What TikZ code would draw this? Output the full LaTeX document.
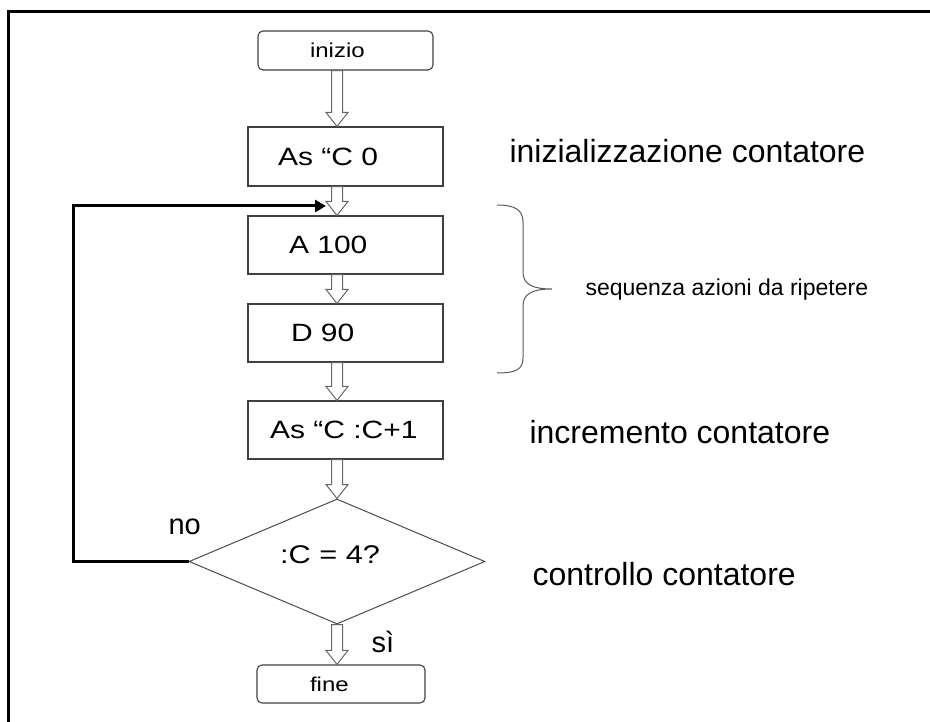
\documentclass[tikz,border=0pt]{standalone}
\usepackage{fontspec}
\setmainfont{Liberation Sans}
\newfontfamily\boxfont{Liberation Sans}[FakeStretch=1.2]
\usetikzlibrary{shapes.geometric,arrows.meta,calc}

% hollow block arrow between two points
\newcommand\flowarrow[2]{%
  \path[hollowarrow] let \p1=(#1), \p2=(#2) in
    (\x1-5.5pt,\y1) -- (\x1+5.5pt,\y1) -- (\x1+5.5pt,\y2+14pt)
    -- (\x1+11pt,\y2+14pt) -- (\x1,\y2) -- (\x1-11pt,\y2+14pt)
    -- (\x1-5.5pt,\y2+14pt) -- cycle;}

\begin{document}
\begin{tikzpicture}[x=1pt,y=-1pt,
  procbox/.style={draw=black!75, line width=1.1pt, minimum height=58pt,
    inner ysep=0pt, align=left,
    font=\boxfont\fontsize{25}{30}\selectfont},
  termbox/.style={procbox, rounded corners=5pt,
    font=\boxfont\fontsize{20}{24}\selectfont},
  decision/.style={diamond, draw=black!70, line width=1pt,
    minimum width=296pt, minimum height=125pt, inner sep=0pt},
  hollowarrow/.style={draw=black!60, fill=white, line width=1pt},
  loopline/.style={draw=black, line width=3pt,
    -{Triangle[length=11pt,width=12pt]}},
  bigtext/.style={anchor=base west, font=\fontsize{32}{38}\selectfont},
  smalltext/.style={anchor=base west, font=\fontsize{23}{28}\selectfont},
  tagtext/.style={anchor=base west, font=\fontsize{29}{34}\selectfont},
  brace/.style={draw=black!65, line width=1pt}]

\useasboundingbox (0,0) rectangle (930,722);

% outer frame (top and left edges)
\draw[line width=3pt] (8.5,722) -- (8.5,11.5) -- (930,11.5);

% axis of the flow arrows
\coordinate (axis) at (337,0);

% flowchart blocks
\node[termbox, minimum height=39pt, inner xsep=52pt, text width=71pt]
  (start) at (345.5,50.5) {inizio};
\node[procbox, minimum height=59pt, inner xsep=30pt, text width=135pt]
  (init) at (345.5,156.5) {As “C 0};
\node[procbox, inner xsep=41pt, text width=113pt]
  (fwd) at (345.5,245) {A 100};
\node[procbox, inner xsep=43pt, text width=109pt]
  (turn) at (345.5,333) {D 90};
\node[procbox, inner xsep=22pt, text width=151pt]
  (incr) at (345.5,430) {As “C :C+1};
\node[decision] (test) at (337,561.5) {};
\node[font=\boxfont\fontsize{25.6}{30}\selectfont] (testlabel) at (330,555) {:C = 4?};
\node[termbox, minimum height=38pt, inner xsep=53pt, text width=62pt]
  (stop) at (341,684) {fine};

% flow arrows
\flowarrow{start.south -| axis}{init.north -| axis}
\flowarrow{init.south -| axis}{fwd.north -| axis}
\flowarrow{fwd.south -| axis}{turn.north -| axis}
\flowarrow{turn.south -| axis}{incr.north -| axis}
\flowarrow{incr.south -| axis}{test.north -| axis}
\flowarrow{test.south -| axis}{stop.north -| axis}

% loop back to the repeated sequence
\coordinate (loopcorner) at (73,206);
\coordinate (loopentry) at (326,206);
\draw[loopline] (test.west) -| (loopcorner) -- (loopentry);

% branch labels
\node[tagtext] (nolabel) at (165,534) {no};
\node[tagtext] (silabel) at (368,652) {sì};

% brace around the repeated actions
\draw[brace] (497,205) .. controls (515,205) and (523,210) .. (523,222)
  -- (523,272) .. controls (523,284) and (532,289) .. (552,289)
  .. controls (532,289) and (523,294) .. (523,306)
  -- (523,358) .. controls (523,370) and (515,373) .. (497,373);

% comments on the right
\node[bigtext] (c1) at (506,163) {inizializzazione contatore};
\node[smalltext] (c2) at (582,296) {sequenza azioni da ripetere};
\node[bigtext] (c3) at (526,443) {incremento contatore};
\node[bigtext] (c4) at (529,585) {controllo contatore};
\end{tikzpicture}
\end{document}
